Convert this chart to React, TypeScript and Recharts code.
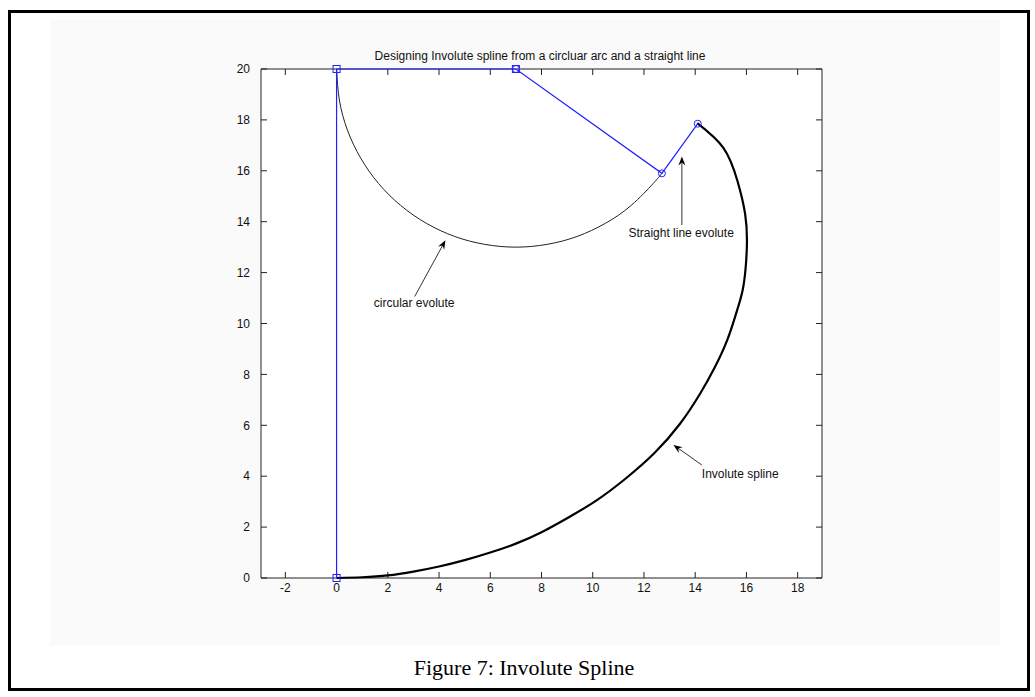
import {
  ScatterChart,
  Scatter,
  XAxis,
  YAxis,
  CartesianGrid,
  ReferenceLine,
} from "recharts";

// blue construction polyline (evolute control points)
const ctrlX = [0, 0, 7, 12.7, 14.1];
const ctrlY = [0, 20, 20, 15.9, 17.85];
const ctrlMarks = ["sq", "sq", "both", "ci", "ci"];

// circular evolute, centre (7,20)
const arcX = [0, 0.11, 0.42, 0.94, 1.64, 2.5, 3.5, 4.61, 5.78, 7, 8.22, 9.39, 10.5, 11.5, 12.36, 12.7];
const arcY = [20, 18.78, 17.61, 16.5, 15.5, 14.64, 13.94, 13.42, 13.11, 13, 13.11, 13.42, 13.94, 14.64, 15.5, 15.9];

// involute spline
const invX = [0, 1, 2, 3, 4, 5, 6, 7, 8, 9, 10.15, 11.3, 12.4, 13.4, 14.19, 14.75, 15.25, 15.6, 15.85, 15.97, 16.02, 15.95, 15.65, 15.1, 14.08];
const invY = [0, 0.03, 0.1, 0.25, 0.45, 0.7, 1.0, 1.35, 1.8, 2.35, 3.05, 3.92, 4.9, 6.05, 7.24, 8.25, 9.35, 10.4, 11.3, 12.2, 13.2, 14.3, 15.6, 16.9, 17.87];

const xTicks = [-2, 0, 2, 4, 6, 8, 10, 12, 14, 16, 18];
const yTicks = [0, 2, 4, 6, 8, 10, 12, 14, 16, 18, 20];

// annotations: arrow tail -> head, then text
const noteText = ["circular evolute", "Straight line evolute", "Involute spline"];
const noteTailX = [3.05, 13.48, 14.26];
const noteTailY = [11.06, 13.87, 4.44];
const noteHeadX = [4.25, 13.48, 13.15];
const noteHeadY = [13.27, 16.56, 5.23];
const noteTextX = [3.03, 13.45, 14.26];
const noteTextY = [10.8, 13.58, 4.11];
const noteAnchor = ["middle", "middle", "start"];

const zip = (xs: number[], ys: number[]) => xs.map((x, i) => ({ x, y: ys[i] }));

const ctrlData = ctrlX.map((x, i) => ({ x, y: ctrlY[i], m: ctrlMarks[i] }));
const arcData = zip(arcX, arcY);
const invData = zip(invX, invY);
const noteData = noteText.map((t, i) => ({ x: noteTextX[i], y: noteTextY[i], t, a: noteAnchor[i] }));

const FONT = "'Liberation Sans', Arial, sans-serif";
const BLUE = "#1f1fff";

const noMark = () => <g />;

const ctrlMarker = (p: any) => {
  const { cx, cy, payload } = p;
  const sq = <rect x={cx - 3.5} y={cy - 3.5} width={7} height={7} fill="none" stroke={BLUE} strokeWidth={1} />;
  const ci = <circle cx={cx} cy={cy} r={3.5} fill="none" stroke={BLUE} strokeWidth={1} />;
  if (payload.m === "sq") return <g>{sq}</g>;
  if (payload.m === "ci") return <g>{ci}</g>;
  return (
    <g>
      {sq}
      {ci}
    </g>
  );
};

const noteLabel = (p: any) => (
  <text
    x={p.cx}
    y={p.cy}
    dy="0.35em"
    textAnchor={p.payload.a}
    fontFamily={FONT}
    fontSize={12}
    fill="#111"
  >
    {p.payload.t}
  </text>
);

const arrow = (p: any) => {
  const { x1, y1, x2, y2 } = p;
  const dx = x2 - x1;
  const dy = y2 - y1;
  const len = Math.sqrt(dx * dx + dy * dy) || 1;
  const ux = dx / len;
  const uy = dy / len;
  const bx = x2 - ux * 9;
  const by = y2 - uy * 9;
  const nx = -uy * 3.5;
  const ny = ux * 3.5;
  return (
    <g>
      <line x1={x1} y1={y1} x2={bx + ux * 4} y2={by + uy * 4} stroke="#333" strokeWidth={1} />
      <polygon
        points={`${x2},${y2} ${bx + nx},${by + ny} ${x2 - ux * 6},${y2 - uy * 6} ${bx - nx},${by - ny}`}
        fill="#000"
      />
    </g>
  );
};

const blankTick = () => <g />;

export default function App() {
  const dom: [number, number] = [-2.95, 18.95];
  return (
    <div style={{ position: "absolute", left: 0, top: 0, width: 1035, height: 697, background: "#fff" }}>
      <div
        style={{
          position: "absolute",
          left: 8,
          top: 10,
          width: 1016,
          height: 675,
          border: "3px solid #000",
        }}
      />
      <div style={{ position: "absolute", left: 50, top: 20, width: 950, height: 626, background: "#fafafa" }} />
      <div
        style={{
          position: "absolute",
          left: 240,
          top: 49,
          width: 600,
          textAlign: "center",
          fontFamily: FONT,
          fontSize: 12,
          color: "#111",
          whiteSpace: "nowrap",
        }}
      >
        Designing Involute spline from a circluar arc and a straight line
      </div>
      <div style={{ position: "absolute", left: 200, top: 40 }}>
        <ScatterChart width={680} height={590} margin={{ top: 19, right: 48, bottom: 22, left: 21 }}>
          <CartesianGrid horizontal={false} vertical={false} fill="#fff" />
          <XAxis
            type="number"
            dataKey="x"
            domain={dom}
            ticks={xTicks}
            height={30}
            tickSize={-6}
            tickMargin={11}
            stroke="#222"
            tick={{ fontSize: 12, fontFamily: FONT, fill: "#111" }}
            interval={0}
          />
          <XAxis
            xAxisId="top"
            orientation="top"
            type="number"
            dataKey="x"
            domain={dom}
            ticks={xTicks}
            allowDataOverflow
            height={10}
            tickSize={-6}
            stroke="#222"
            tick={blankTick}
            interval={0}
          />
          <YAxis
            type="number"
            dataKey="y"
            domain={[0, 20]}
            ticks={yTicks}
            width={40}
            tickSize={-6}
            tickMargin={17}
            stroke="#222"
            tick={{ fontSize: 12, fontFamily: FONT, fill: "#111" }}
            interval={0}
          />
          <YAxis
            yAxisId="right"
            orientation="right"
            type="number"
            dataKey="y"
            domain={[0, 20]}
            ticks={yTicks}
            allowDataOverflow
            width={10}
            tickSize={-6}
            stroke="#222"
            tick={blankTick}
            interval={0}
          />
          <Scatter
            data={arcData}
            line={{ stroke: "#222", strokeWidth: 1 }}
            lineJointType="natural"
            shape={noMark}
            isAnimationActive={false}
          />
          <Scatter
            data={invData}
            line={{ stroke: "#000", strokeWidth: 2.2 }}
            lineJointType="natural"
            shape={noMark}
            isAnimationActive={false}
          />
          <Scatter
            data={ctrlData}
            line={{ stroke: BLUE, strokeWidth: 1.2 }}
            lineJointType="linear"
            shape={ctrlMarker}
            isAnimationActive={false}
          />
          {noteText.map((t, i) => (
            <ReferenceLine
              key={t}
              segment={[
                { x: noteTailX[i], y: noteTailY[i] },
                { x: noteHeadX[i], y: noteHeadY[i] },
              ]}
              shape={arrow}
            />
          ))}
          <Scatter data={noteData} shape={noteLabel} isAnimationActive={false} />
        </ScatterChart>
      </div>
      <div
        style={{
          position: "absolute",
          left: 0,
          width: 1048,
          top: 655,
          textAlign: "center",
          fontFamily: "'Liberation Serif', 'Times New Roman', serif",
          fontSize: 22,
          color: "#000",
        }}
      >
        Figure 7: Involute Spline
      </div>
    </div>
  );
}
